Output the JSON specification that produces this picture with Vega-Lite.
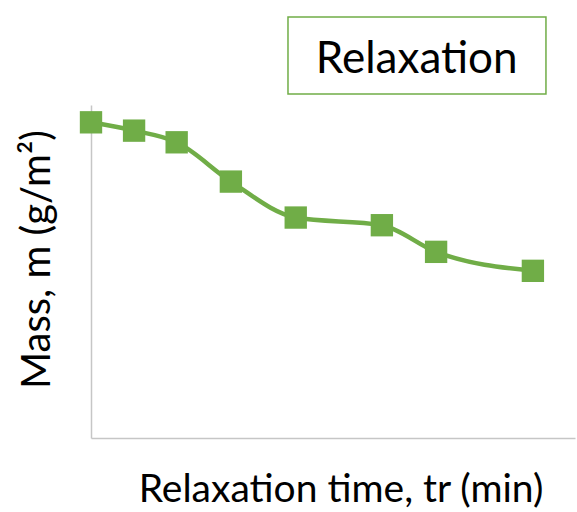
{
  "$schema": "https://vega.github.io/schema/vega-lite/v6.json",
  "autosize": {"type": "none"},
  "padding": {"left": 91, "top": 105, "right": 2, "bottom": 74},
  "width": 484,
  "height": 333,
  "background": "white",
  "config": {"view": {"stroke": null}, "font": "Lato"},
  "datasets": {
    "series": [
      {"time": 0, "mass": 94.8},
      {"time": 8.9, "mass": 92.3},
      {"time": 17.7, "mass": 88.8},
      {"time": 28.9, "mass": 77.0},
      {"time": 42.3, "mass": 66.2},
      {"time": 60.1, "mass": 63.9},
      {"time": 71.3, "mass": 55.9},
      {"time": 91.3, "mass": 50.2}
    ],
    "box": [
      {"x1": 40.7, "x2": 94.0, "y1": 103.3, "y2": 126.4, "tx": 67.3, "ty": 109.5, "label": "Relaxation"}
    ]
  },
  "encoding": {
    "x": {
      "type": "quantitative",
      "scale": {"domain": [0, 100], "nice": false, "zero": false},
      "axis": {
        "title": "Relaxation time, tr (min)",
        "labels": false, "ticks": false, "grid": false,
        "domainColor": "#C6C6C6", "domainWidth": 1.5,
        "titleFont": "Lato", "titleFontSize": 39, "titleFontWeight": "normal", "titleColor": "#000000",
        "titleX": 249.5, "titleY": 63, "titleAlign": "center", "titleBaseline": "alphabetic"
      }
    },
    "y": {
      "type": "quantitative",
      "scale": {"domain": [0, 100], "nice": false, "zero": false},
      "axis": {
        "title": "Mass, m (g/m²)",
        "labels": false, "ticks": false, "grid": false,
        "domainColor": "#C6C6C6", "domainWidth": 1.5,
        "titleFont": "Lato", "titleFontSize": 40, "titleFontWeight": "normal", "titleColor": "#000000",
        "titleX": -42, "titleY": 154, "titleAngle": -90, "titleAlign": "center", "titleBaseline": "alphabetic"
      }
    }
  },
  "layer": [
    {
      "data": {"name": "series"},
      "mark": {"type": "line", "color": "#70AD47", "strokeWidth": 4.5, "interpolate": "monotone", "clip": false},
      "encoding": {
        "x": {"field": "time", "type": "quantitative"},
        "y": {"field": "mass", "type": "quantitative"}
      }
    },
    {
      "data": {"name": "series"},
      "mark": {"type": "point", "shape": "square", "filled": true, "color": "#70AD47", "size": 500, "opacity": 1, "clip": false},
      "encoding": {
        "x": {"field": "time", "type": "quantitative"},
        "y": {"field": "mass", "type": "quantitative"}
      }
    },
    {
      "data": {"name": "box"},
      "mark": {"type": "rect", "fill": "white", "stroke": "#70AD47", "strokeWidth": 1.5, "clip": false},
      "encoding": {
        "x": {"field": "x1", "type": "quantitative"},
        "x2": {"field": "x2"},
        "y": {"field": "y1", "type": "quantitative"},
        "y2": {"field": "y2"}
      }
    },
    {
      "data": {"name": "box"},
      "mark": {"type": "text", "font": "Lato", "fontSize": 44, "color": "#000000", "align": "center", "baseline": "alphabetic", "clip": false},
      "encoding": {
        "x": {"field": "tx", "type": "quantitative"},
        "y": {"field": "ty", "type": "quantitative"},
        "text": {"field": "label"}
      }
    }
  ]
}
